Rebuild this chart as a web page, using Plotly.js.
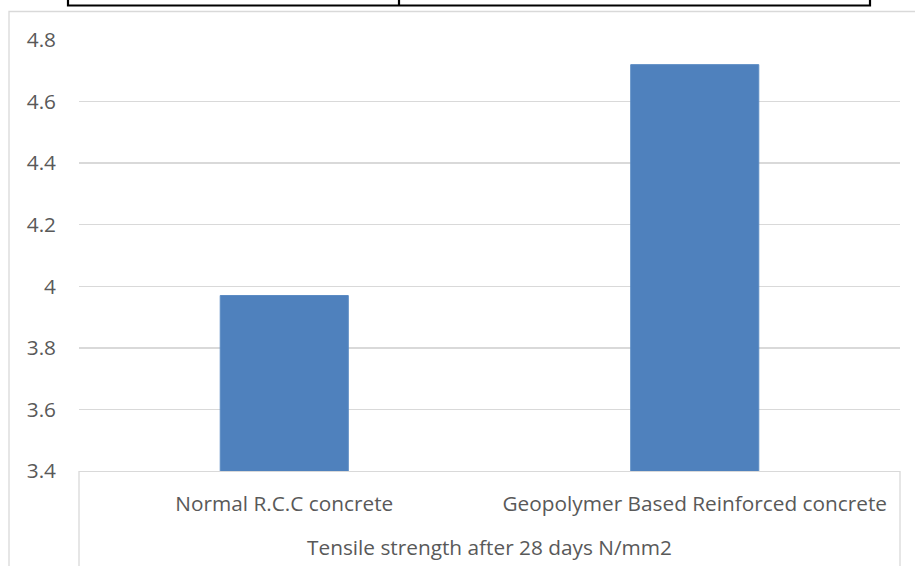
<!DOCTYPE html>
<html>
<head>
<meta charset="utf-8">
<script src="https://cdn.plot.ly/plotly-3.0.1.min.js"></script>
<style>html,body{margin:0;padding:0;background:#fff;}#chart{width:915px;height:566px;}</style>
</head>
<body>
<div id="chart"></div>
<script>
const categories = ["Normal R.C.C concrete", "Geopolymer Based Reinforced concrete"];
const tensileStrength = [3.97, 4.72];
const yTickValues = [3.4, 3.6, 3.8, 4, 4.2, 4.4, 4.6, 4.8];
const yTickLabels = ["3.4", "3.6", "3.8", "4", "4.2", "4.4", "4.6", "4.8"];
const xAxisTitle = "Tensile strength after 28 days N/mm2";

const W = 915, H = 566;
const L = 79, R = 15, T = 40, B = 95;
const pw = W - L - R, ph = H - T - B;
const px = v => (v - L) / pw;
const py = v => (H - B - v) / ph;

const font = "'Open Sans', Lato, sans-serif";
const grey = "#d9d9d9";
const fs = 20.8;

const trace = {
  type: "bar",
  x: categories,
  y: tensileStrength,
  marker: {color: "#4f81bd", line: {color: "#5b8cc4", width: 1}},
  hoverinfo: "x+y"
};

const shapes = [
  {type: "rect", xref: "paper", yref: "paper", x0: px(9), x1: px(930), y0: py(580), y1: py(11.5),
   line: {color: grey, width: 1.3}, layer: "below"},
  {type: "line", xref: "paper", yref: "paper", x0: 0, x1: 0, y0: 0, y1: py(580), line: {color: grey, width: 1.3}},
  {type: "line", xref: "paper", yref: "paper", x0: 1, x1: 1, y0: 0, y1: py(580), line: {color: grey, width: 1.3}},
  {type: "rect", xref: "paper", yref: "paper", x0: px(68), x1: px(870), y0: py(5.5), y1: py(-20),
   line: {color: "#000", width: 2.2}},
  {type: "line", xref: "paper", yref: "paper", x0: px(399), x1: px(399), y0: py(5.5), y1: py(-20),
   line: {color: "#000", width: 2.2}}
];

const layout = {
  width: W, height: H,
  margin: {l: L, r: R, t: T, b: B, pad: 0},
  paper_bgcolor: "#fff", plot_bgcolor: "#fff",
  showlegend: false,
  bargap: 0.688,
  font: {family: font, color: "#595959", size: fs},
  xaxis: {
    type: "category",
    showgrid: false, zeroline: false,
    showline: true, linecolor: grey, linewidth: 1.3,
    ticks: "", ticklabelstandoff: 14,
    tickfont: {family: font, size: fs, color: "#595959"},
    title: {text: xAxisTitle, font: {family: font, size: fs, color: "#595959"}, standoff: 24},
    fixedrange: true
  },
  yaxis: {
    range: [3.4, 4.8],
    tickvals: yTickValues, ticktext: yTickLabels,
    showgrid: true, gridcolor: grey, gridwidth: 1.3,
    zeroline: false, showline: false, ticks: "",
    ticklabelstandoff: 22,
    tickfont: {family: font, size: fs, color: "#595959"},
    fixedrange: true
  },
  shapes: shapes
};

Plotly.newPlot("chart", [trace], layout, {displayModeBar: false, staticPlot: true});
</script>
</body>
</html>
